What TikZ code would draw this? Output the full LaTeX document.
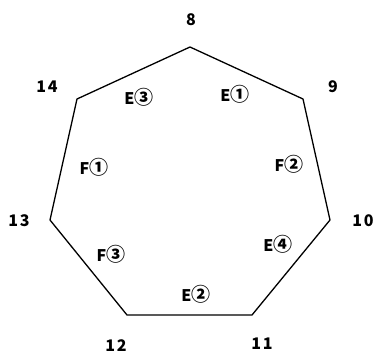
\documentclass[tikz,border=0pt]{standalone}
\usepackage{fontspec}
\setmainfont{Noto Sans CJK JP}
\newfontfamily\numfont[LetterSpace=12]{Noto Sans CJK JP}
\newcommand{\cnum}[1]{{\fontsize{19}{19}\selectfont #1}}
\begin{document}
\begin{tikzpicture}[x=1pt,y=-1pt,
  lbl/.style={font=\numfont\bfseries\fontsize{16}{16}\selectfont, inner sep=0pt, anchor=center},
  edgelbl/.style={font=\bfseries\fontsize{16}{16}\selectfont, inner sep=0pt, anchor=center},
  edge/.style={draw=black, line width=1.3pt, line join=miter}]
\useasboundingbox (0,0) rectangle (373,356);
\coordinate (v8) at (190,47);
\coordinate (v9) at (303,99);
\coordinate (v10) at (330,220);
\coordinate (v11) at (252,315);
\coordinate (v12) at (127,315);
\coordinate (v13) at (50,220);
\coordinate (v14) at (77,99);
\draw[edge] (v8) -- (v9) -- (v10) -- (v11) -- (v12) -- (v13) -- (v14) -- cycle;
\node[lbl] (n8) at (191,20) {8};
\node[lbl] (n9) at (333,87) {9};
\node[lbl] (n10) at (363,221) {10};
\node[lbl] (n11) at (262,344) {11};
\node[lbl] (n12) at (116,346) {12};
\node[lbl] (n13) at (19,221) {13};
\node[lbl] (n14) at (47,87) {14};
\node[edgelbl] (e3) at (139,97) {E\cnum{③}};
\node[edgelbl] (e1) at (235,94) {E\cnum{①}};
\node[edgelbl] (f1) at (94,167) {F\cnum{①}};
\node[edgelbl] (f2) at (289,164) {F\cnum{②}};
\node[edgelbl] (f3) at (111,254) {F\cnum{③}};
\node[edgelbl] (e4) at (278,244) {E\cnum{④}};
\node[edgelbl] (e2) at (196,294) {E\cnum{②}};
\end{tikzpicture}
\end{document}
